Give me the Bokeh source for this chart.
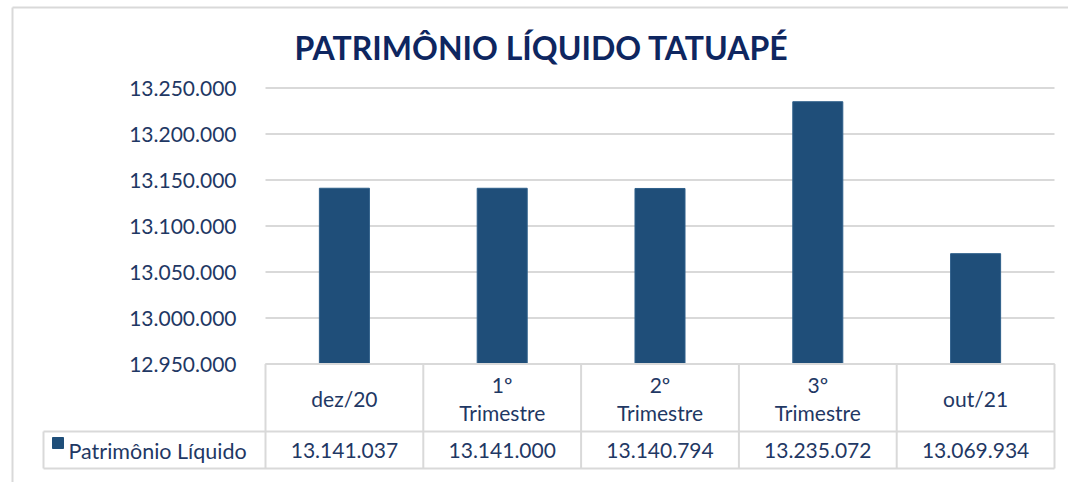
from bokeh.plotting import figure
from bokeh.models import Range1d, ColumnDataSource
from bokeh.core.properties import value
from bokeh.embed import file_html
from bokeh.resources import INLINE

# ---------------- data ----------------
title_text = "PATRIMÔNIO LÍQUIDO TATUAPÉ"
series_name = "Patrimônio Líquido"
categories = ["dez/20", "1º\nTrimestre", "2º\nTrimestre", "3º\nTrimestre", "out/21"]
values = [13141037, 13141000, 13140794, 13235072, 13069934]
y_ticks = [12950000, 13000000, 13050000, 13100000, 13150000, 13200000, 13250000]


def fmt(v):
    return f"{v:,.0f}".replace(",", ".")


# ---------------- layout helpers (reference pixel -> data units) ----------------
W, H = 1068, 482
OX, OY = 0, 0                 # canvas origin on the page
BAND_PX = 157.8               # width of one category column
X0_PX = 265                   # left edge of first category column
BASE = y_ticks[0]
TOP = y_ticks[-1]
TOP_PX = 87.5                 # pixel row of top tick
PX_PER_UNIT = 46.0 / 50000.0


def X(px):
    return (px - X0_PX) / BAND_PX


def Y(py):
    return TOP - (py - TOP_PX) / PX_PER_UNIT


p = figure(width=W, height=H, output_backend="svg", toolbar_location=None,
           x_axis_location=None, y_axis_location=None, title=None,
           x_range=Range1d(X(OX), X(OX + W)), y_range=Range1d(Y(OY + H), Y(OY)),
           min_border=0, outline_line_color=None)
p.grid.visible = False
p.background_fill_color = "white"
p.border_fill_color = "white"

FONT = value("Lato")
TXT = "#1F3864"
LINE = "#D9D9D9"
BAR = "#1F4E79"

# chart border (left + top)
p.segment(x0=[X(12), X(12)], y0=[Y(7), Y(7)], x1=[X(12), X(OX + W)], y1=[Y(OY + H), Y(7)],
          line_color=LINE, line_width=2)

# title
p.text(x=[X(541)], y=[Y(47)], text=[title_text], text_font=value("Lato"),
       text_font_style="bold", text_font_size="32px", text_color="#0E2660",
       text_align="center", text_baseline="middle")

n = len(categories)
centers = [i + 0.5 for i in range(n)]

# gridlines
p.segment(x0=[0] * len(y_ticks), x1=[n] * len(y_ticks), y0=y_ticks, y1=y_ticks,
          line_color=LINE, line_width=2)

# y tick labels
p.text(x=[X(236)] * len(y_ticks), y=y_ticks, text=[fmt(t) for t in y_ticks],
       text_font=FONT, text_font_size="21px", text_color=TXT,
       text_align="right", text_baseline="middle")

# bars
src = ColumnDataSource(dict(x=centers, top=values, cat=categories))
p.vbar(x="x", top="top", bottom=BASE, width=0.317, source=src,
       fill_color=BAR, line_color="#2E5F8A", line_width=1)

# ---------------- data table ----------------
row1_bottom = Y(431)
row2_bottom = Y(468)
# horizontal lines
p.segment(x0=[0, X(43), X(43)], x1=[n, n, n], y0=[BASE, row1_bottom, row2_bottom],
          y1=[BASE, row1_bottom, row2_bottom], line_color=LINE, line_width=2)
# vertical lines
vx = list(range(n + 1))
p.segment(x0=vx, x1=vx, y0=[BASE] * len(vx), y1=[row2_bottom] * len(vx),
          line_color=LINE, line_width=2)
p.segment(x0=[X(43)], x1=[X(43)], y0=[row1_bottom], y1=[row2_bottom],
          line_color=LINE, line_width=2)

# header texts
p.text(x=centers, y=[Y(397.5)] * n, text=categories, text_font=FONT,
       text_font_size="21px", text_color=TXT, text_align="center",
       text_baseline="middle", text_line_height=1.12)
# value texts
p.text(x=centers, y=[Y(450)] * n, text=[fmt(v) for v in values], text_font=FONT,
       text_font_size="21px", text_color=TXT, text_align="center",
       text_baseline="middle")
# legend key + series name
p.scatter(x=[X(57.5)], y=[Y(442.5)], marker="square", size=11,
          fill_color=BAR, line_color=BAR)
p.text(x=[X(68)], y=[Y(450)], text=[series_name], text_font=FONT,
       text_font_size="21.5px", text_color=TXT, text_align="left",
       text_baseline="middle")

open("out.html", "w").write(file_html(p, INLINE))
